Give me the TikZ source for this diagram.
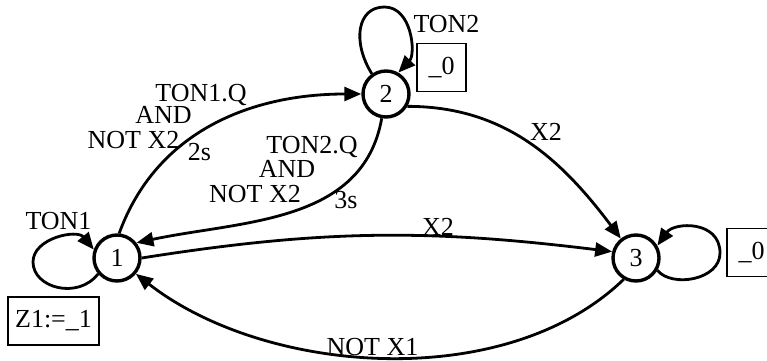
\documentclass[tikz,border=0pt]{standalone}
\usepackage{fontspec}
\setmainfont{Liberation Serif}
\usetikzlibrary{arrows.meta}
\begin{document}
\begin{tikzpicture}[x=1pt,y=1pt,
  every node/.style={font=\fontsize{26}{23}\selectfont},
  state/.style={circle,draw,line width=3.4pt,minimum size=46pt,inner sep=0pt},
  actbox/.style={draw,line width=1.9pt,minimum width=49pt,minimum height=48pt,inner sep=0pt},
  lbl/.style={anchor=base,inner sep=0pt},
  conn/.style={line width=2.8pt,-{Triangle[length=17pt,width=14pt]}}]
\useasboundingbox (0,0) rectangle (767,360);
% states
\node[state] (n1) at (117,102) {1};
\node[state] (n2) at (386,266) {2};
\node[state] (n3) at (636,102) {3};
% action boxes
\node[actbox,minimum width=91pt] (z1) at (53.5,39) {Z1:=\_1};
\node[actbox] (b2) at (441.5,292.5) {\_0};
\node[actbox] (b3) at (751.5,107.5) {\_0};
% transitions
\draw[conn] (n1.85) to[out=70,in=180] (n2.180);
\draw[conn] (n2.-100) to[out=-100,in=12] (n1.38);
\draw[conn] (n1.0) to[out=9,in=173] (n3.165);
\draw[conn] (n2.-30) to[out=0,in=127] (n3.128);
\draw[conn] (n3.-120) to[out=-136,in=-38,looseness=0.86] (n1.-40);
% self loops
\draw[conn] (n1.220) .. controls (78,60) and (33,72) .. (33,98)
  .. controls (33,122) and (77,131) .. (n1.160);
\draw[conn] (n2.125) .. controls (352,318) and (357,353) .. (384.5,353)
  .. controls (412,353) and (416,306) .. (n2.60);
\draw[conn] (n3.-30) .. controls (672,72) and (720,80) .. (720,107)
  .. controls (720,140) and (674,138) .. (n3.30);
% labels
\node[lbl] (l12a) at (201,259) {TON1.Q};
\node[lbl] (l12b) at (163.5,237) {AND};
\node[lbl] (l12c) at (133.5,212) {NOT X2};
\node[lbl] (l12t) at (199.5,200) {2s};
\node[lbl] (l21a) at (312,207) {TON2.Q};
\node[lbl] (l21b) at (287,183) {AND};
\node[lbl] (l21c) at (255,158) {NOT X2};
\node[lbl] (l21t) at (346,152) {3s};
\node[lbl] (lt1) at (58.5,131) {TON1};
\node[lbl] (lt2) at (446.5,328) {TON2};
\node[lbl] (l13) at (438,125) {X2};
\node[lbl] (l23) at (546,220) {X2};
\node[lbl] (l31) at (372.5,5) {NOT X1};
\end{tikzpicture}
\end{document}
